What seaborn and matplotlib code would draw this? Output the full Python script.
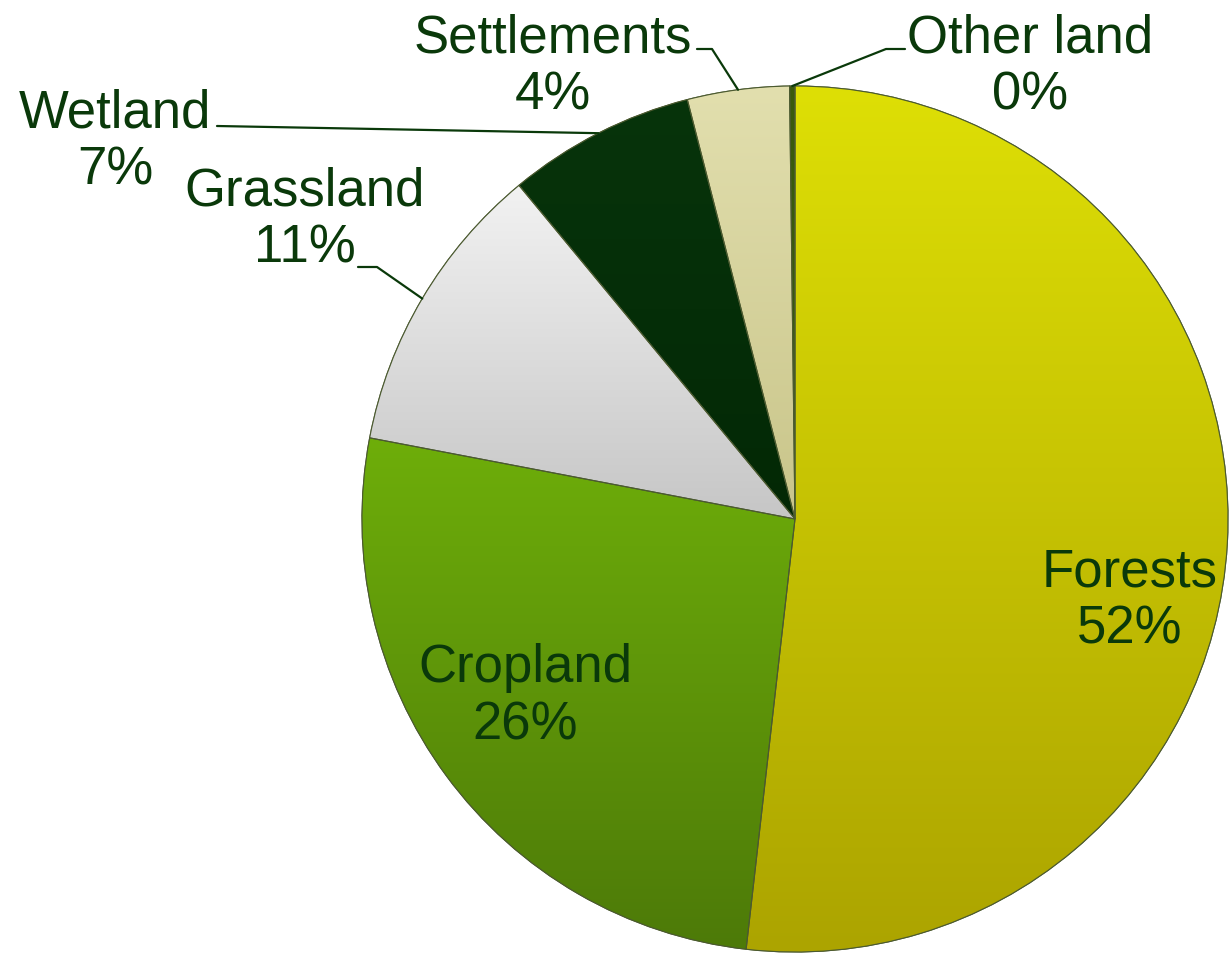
import numpy as np
import matplotlib
matplotlib.use("Agg")
import matplotlib.pyplot as plt
import matplotlib.colors as mcolors
from matplotlib.patches import Wedge
import seaborn as sns

# ---- data ----
categories = ["Forests", "Cropland", "Grassland", "Wetland", "Settlements", "Other land"]
shares = [51.8, 26.2, 11.0, 7.0, 3.8, 0.2]

sns.set_theme(style="white")
plt.rcParams["font.family"] = ["Liberation Sans", "DejaVu Sans"]

W, H = 1229, 954
fig = plt.figure(figsize=(W / 100, H / 100), dpi=100)
ax = fig.add_axes([0, 0, 1, 1])

cx, cy, R = 795, H - 520, 433
grad = {
    "Forests": ("#dedf06", "#aca400"),
    "Cropland": ("#6eae0a", "#4d7a08"),
    "Grassland": ("#f2f2f2", "#c6c6c6"),
    "Wetland": ("#07340b", "#032805"),
    "Settlements": ("#e2dfae", "#c9c58a"),
    "Other land": ("#3a5a0c", "#3a5a0c"),
}
base = [grad[c][0] for c in categories]

wedges, _ = ax.pie(shares, colors=base, startangle=90, counterclock=False,
                   center=(cx, cy), radius=R,
                   wedgeprops=dict(edgecolor="#55603a", linewidth=0.8))

for w, c in zip(wedges, categories):
    top, bot = [np.array(mcolors.to_rgb(v)) for v in grad[c]]
    ext = w.get_path().get_extents()
    t = np.linspace(0, 1, 256)[:, None]
    img = (top[None, :] * (1 - t) + bot[None, :] * t)[:, None, :]
    img = np.repeat(img, 2, axis=1)
    im = ax.imshow(img, extent=(ext.x0, ext.x1, ext.y0, ext.y1), origin="upper",
                   interpolation="bilinear", zorder=w.get_zorder() + 0.1, aspect="auto")
    im.set_clip_path(w)
    outline = Wedge((cx, cy), R, w.theta1, w.theta2, facecolor="none",
                    edgecolor="#4b5a30", linewidth=0.8, zorder=w.get_zorder() + 0.2)
    ax.add_patch(outline)

txt_color = "#0a390a"
fs = 38
label_pos = {
    "Forests": (1130, 601),
    "Cropland": (525, 697),
    "Grassland": (305, 220),
    "Wetland": (115, 142),
    "Settlements": (553, 67),
    "Other land": (1030, 67),
}
for c, v in zip(categories, shares):
    x, y = label_pos[c]
    ax.text(x, H - y, f"{c}\n{v:.0f}%", ha="center", va="center", fontsize=fs,
            color=txt_color, linespacing=1.18, zorder=10)

# leader lines: start/elbow points in pixels, ending on the rim at the wedge's mid-angle
leaders = {
    "Grassland": [(358, 268), (377, 268)],
    "Wetland": [(217, 127)],
    "Settlements": [(697, 50), (712, 50)],
    "Other land": [(905, 50), (886, 50)],
}
for w, c in zip(wedges, categories):
    if c not in leaders:
        continue
    mid = np.deg2rad((w.theta1 + w.theta2) / 2)
    end = (cx + R * np.cos(mid), cy + R * np.sin(mid))
    pts = [(x, H - y) for x, y in leaders[c]] + [end]
    xs, ys = zip(*pts)
    ax.plot(xs, ys, color=txt_color, linewidth=1.6, zorder=9)

ax.set_xlim(0, W)
ax.set_ylim(0, H)
ax.set_aspect("auto")
ax.axis("off")
fig.savefig("out.png", dpi=100)
